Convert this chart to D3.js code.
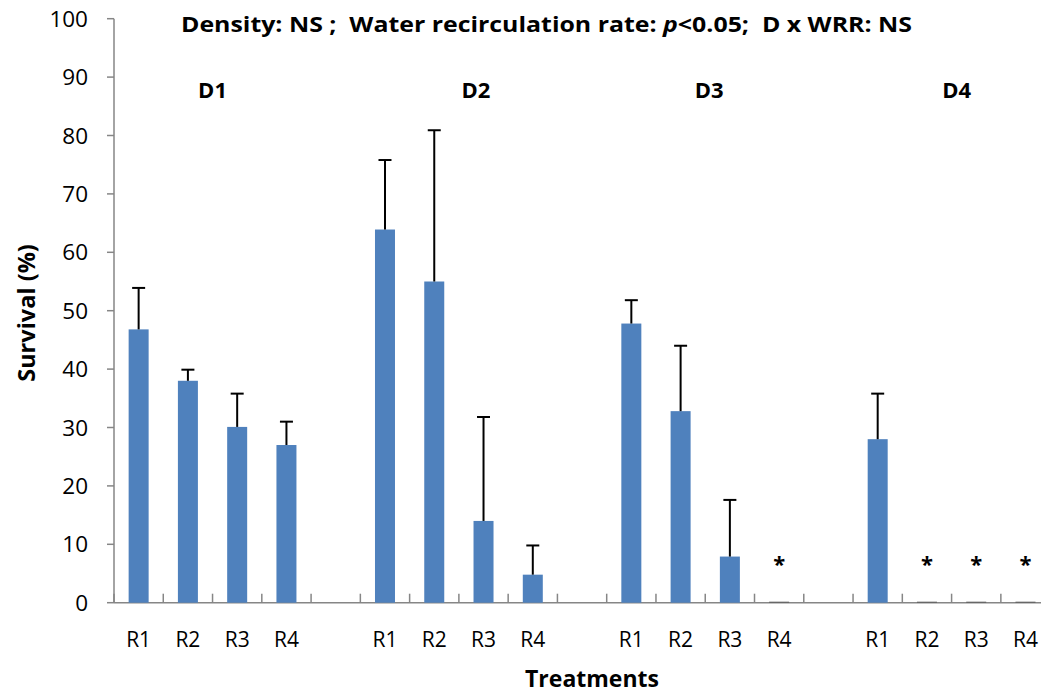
<!DOCTYPE html>
<html>
<head>
<meta charset="utf-8">
<script src="https://cdn.jsdelivr.net/npm/d3@7"></script>
<style>
  body { margin: 0; background: #fff; }
  svg { display: block; font-family: 'Open Sans', 'Noto Sans', sans-serif; }
  text { white-space: pre; }
</style>
</head>
<body>
<svg id="chart"></svg>
<script>
const width = 1041
const height = 696

const groups = ['D1', 'D2', 'D3', 'D4']
const treatments = ['R1', 'R2', 'R3', 'R4']
// mean survival (%) per density group, R1..R4
const survival = [
  [46.8, 38, 30.1, 27],
  [63.9, 55, 14, 4.8],
  [47.8, 32.8, 7.9, 0],
  [28, 0, 0, 0],
]
// upper error bar length
const errors = [
  [7.1, 1.9, 5.7, 4],
  [11.9, 25.9, 17.8, 5],
  [4, 11.2, 9.7, 0],
  [7.8, 0, 0, 0],
]
const yTicks = [0, 10, 20, 30, 40, 50, 60, 70, 80, 90, 100]
const groupLabelShift = [0, 17, 4, 5]

const margin = { left: 114, top: 18.7, bottom: 93.3 }
const slotWidth = 49.27

// one slot per treatment plus an empty slot between groups
const slots = []
groups.forEach((g, gi) => {
  treatments.forEach((t, ti) => {
    slots.push({ key: g + t, group: g, gi, treatment: t, value: survival[gi][ti], err: errors[gi][ti] })
  })
  if (gi < groups.length - 1) slots.push({ key: g + 'gap', gap: true })
})

const x = d3
  .scaleBand()
  .domain(slots.map(d => d.key))
  .range([margin.left, margin.left + slotWidth * slots.length])
  .paddingInner(0)
  .paddingOuter(0)

const y = d3
  .scaleLinear()
  .domain([0, 100])
  .range([height - margin.bottom, margin.top])

const svg = d3.select('#chart').attr('width', width).attr('height', height)

const axisColor = '#868686'
const barColor = '#4f81bd'
const barWidth = 20

// y axis
svg.append('line')
  .attr('x1', margin.left).attr('x2', margin.left)
  .attr('y1', y(0)).attr('y2', y(100))
  .attr('stroke', axisColor).attr('stroke-width', 1.5)

svg.selectAll('.ytick')
  .data(yTicks)
  .enter()
  .append('line')
  .attr('x1', margin.left - 7).attr('x2', margin.left)
  .attr('y1', d => y(d)).attr('y2', d => y(d))
  .attr('stroke', axisColor).attr('stroke-width', 1.5)

svg.selectAll('.ylabel')
  .data(yTicks)
  .enter()
  .append('text')
  .attr('x', 88)
  .attr('y', d => y(d) + 8)
  .attr('text-anchor', 'end')
  .attr('font-size', 22.5)
  .attr('fill', '#000')
  .text(d => d)

// x axis with tick marks at slot boundaries, pointing up
svg.append('line')
  .attr('x1', margin.left).attr('x2', width)
  .attr('y1', y(0)).attr('y2', y(0))
  .attr('stroke', axisColor).attr('stroke-width', 1.5)

svg.selectAll('.xtick')
  .data(slots)
  .enter()
  .append('line')
  .attr('x1', d => x(d.key)).attr('x2', d => x(d.key))
  .attr('y1', y(0) - 9).attr('y2', y(0))
  .attr('stroke', axisColor).attr('stroke-width', 1.5)

const bars = slots.filter(d => !d.gap)
const cx = d => x(d.key) + x.bandwidth() / 2

svg.selectAll('.bar')
  .data(bars.filter(d => d.value > 0))
  .enter()
  .append('rect')
  .attr('x', d => cx(d) - barWidth / 2)
  .attr('y', d => y(d.value))
  .attr('width', barWidth)
  .attr('height', d => y(0) - y(d.value))
  .attr('fill', barColor)

// zero-height bars show as a thin line
svg.selectAll('.zero')
  .data(bars.filter(d => d.value === 0))
  .enter()
  .append('line')
  .attr('x1', d => cx(d) - barWidth / 2).attr('x2', d => cx(d) + barWidth / 2)
  .attr('y1', y(0) - 0.5).attr('y2', y(0) - 0.5)
  .attr('stroke', '#5a5a5a').attr('stroke-width', 1)

svg.selectAll('.star')
  .data(bars.filter(d => d.value === 0))
  .enter()
  .append('text')
  .attr('x', d => cx(d))
  .attr('y', y(0) - 31)
  .attr('text-anchor', 'middle')
  .attr('font-size', 22)
  .attr('font-weight', 'bold')
  .text('*')

// error bars (upper only)
const errs = bars.filter(d => d.err > 0)
svg.selectAll('.err')
  .data(errs)
  .enter()
  .append('line')
  .attr('x1', cx).attr('x2', cx)
  .attr('y1', d => y(d.value)).attr('y2', d => y(d.value + d.err))
  .attr('stroke', '#000').attr('stroke-width', 2)

svg.selectAll('.cap')
  .data(errs)
  .enter()
  .append('line')
  .attr('x1', d => cx(d) - 6.5).attr('x2', d => cx(d) + 6.5)
  .attr('y1', d => y(d.value + d.err)).attr('y2', d => y(d.value + d.err))
  .attr('stroke', '#000').attr('stroke-width', 2)

// treatment labels
svg.selectAll('.xlabel')
  .data(bars)
  .enter()
  .append('text')
  .attr('x', cx)
  .attr('y', 647)
  .attr('text-anchor', 'middle')
  .attr('font-size', 21)
  .text(d => d.treatment)

// group labels
svg.selectAll('.group')
  .data(groups)
  .enter()
  .append('text')
  .attr('x', (g, i) => {
    const first = x(g + treatments[0])
    const last = x(g + treatments[treatments.length - 1]) + x.bandwidth()
    return (first + last) / 2 + groupLabelShift[i]
  })
  .attr('y', 98)
  .attr('text-anchor', 'middle')
  .attr('font-size', 22)
  .attr('font-weight', 'bold')
  .text(g => g)

// title
const title = svg.append('text')
  .attr('x', 181)
  .attr('y', 32)
  .attr('font-size', 21.5)
  .attr('font-weight', 'bold')
  .attr('textLength', 731)
  .attr('lengthAdjust', 'spacingAndGlyphs')
title.append('tspan').text('Density: NS ;  Water recirculation rate: ')
title.append('tspan').attr('font-style', 'italic').text('p')
title.append('tspan').text('<0.05;  D x WRR: NS')

// axis titles
svg.append('text')
  .attr('x', 592)
  .attr('y', 687)
  .attr('text-anchor', 'middle')
  .attr('font-size', 23)
  .attr('font-weight', 'bold')
  .text('Treatments')

svg.append('text')
  .attr('transform', 'translate(35,313) rotate(-90)')
  .attr('text-anchor', 'middle')
  .attr('font-size', 23.5)
  .attr('font-weight', 'bold')
  .text('Survival (%)')
</script>
</body>
</html>
